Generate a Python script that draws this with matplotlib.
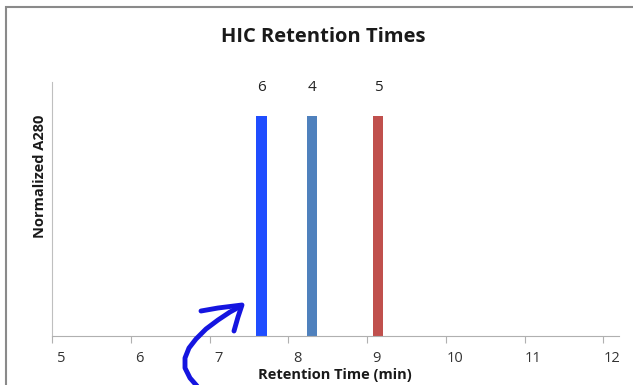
import matplotlib
matplotlib.use("Agg")
import matplotlib.pyplot as plt
from matplotlib.patches import Rectangle
from matplotlib.transforms import ScaledTranslation

# peak retention times (min) and sample labels
samples = ["6", "4", "5"]
retention = [7.66, 8.30, 9.14]
heights = [1.0, 1.0, 1.0]
colors = ["#1f4dff", "#4f81bd", "#c0504d"]
xticks = [5, 6, 7, 8, 9, 10, 11, 12]

# hand-drawn arrow, in figure pixels (x, y from top)
arrow_path = [(197, 386), (190, 378), (185, 368), (185, 358), (189, 348), (196, 339),
              (206, 329), (218, 320), (230, 312), (241, 306)]
arrow_head = [(201, 311), (218, 308), (242, 305), (238, 317), (234, 331)]

plt.rcParams['font.family'] = ['Open Sans', 'DejaVu Sans']

fig = plt.figure(figsize=(6.33, 3.85), dpi=100)
W, H = 633, 385
ax = fig.add_axes([52 / W, 1 - 336 / H, 567 / W, 254 / H])

ax.bar(retention, heights, width=0.13, color=colors)
for x, h, s in zip(retention, heights, samples):
    ax.text(x, 1.13, s, ha='center', va='center', fontsize=11, color='#222222')

ax.set_xlim(5, 12.2)
ax.set_ylim(0, 1.155)
ax.set_xticks(xticks)
ax.set_xticklabels([str(t) for t in xticks], fontsize=10.5, color='#333333')
ax.set_yticks([])
ax.tick_params(axis='x', direction='out', length=5, color='#b0b0b0', pad=6)
off = ScaledTranslation(9 / 100, 0, fig.dpi_scale_trans)
for lab in ax.get_xticklabels():
    lab.set_transform(lab.get_transform() + off)

for side in ['top', 'right']:
    ax.spines[side].set_visible(False)
ax.spines['left'].set_color('#bfbfbf')
ax.spines['bottom'].set_color('#b0b0b0')

fig.text(323 / W, 1 - 37 / H, "HIC Retention Times", ha='center', va='center',
         fontsize=14.5, fontweight='bold', color='#1a1a1a')
fig.text(335 / W, 1 - 375 / H, "Retention Time (min)", ha='center', va='center',
         fontsize=10.5, fontweight='bold', color='#1a1a1a')
fig.text(40 / W, 1 - 176 / H, "Normalized A280", ha='center', va='center',
         rotation=90, fontsize=10.5, fontweight='bold', color='#1a1a1a')

# outer chart frame
fig.patches.append(Rectangle((6 / W, -0.1), 1.2, 1.1 - 7 / H, transform=fig.transFigure,
                             fill=False, edgecolor='#8a8a8a', linewidth=1.5, clip_on=False))

# blue pen arrow
for pts in [arrow_path, arrow_head]:
    xs = [p[0] / W for p in pts]
    ys = [1 - p[1] / H for p in pts]
    fig.lines.append(plt.Line2D(xs, ys, transform=fig.transFigure, color='#1515e0',
                                linewidth=3.5, solid_capstyle='round', solid_joinstyle='round'))

fig.savefig("out.png", dpi=100)
